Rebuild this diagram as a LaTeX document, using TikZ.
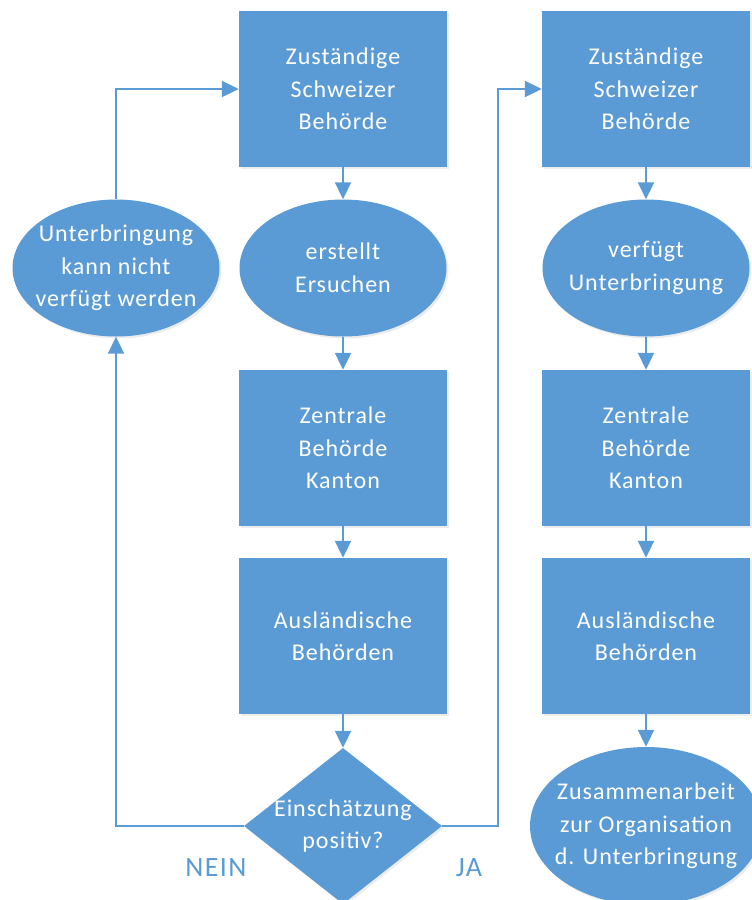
\documentclass[tikz,border=0pt]{standalone}
\usepackage{fontspec}
\setmainfont{Carlito}
\newfontfamily\boxfont[LetterSpace=4]{Carlito}
\newfontfamily\lblfont[LetterSpace=5]{Carlito}
\usetikzlibrary{arrows.meta}
\usetikzlibrary{shapes.geometric}
\usetikzlibrary{shadows}
\definecolor{mblue}{HTML}{5B9BD5}
\tikzset{flow/.style = {draw = mblue, line width = 2pt, -{Triangle[length = 17pt, width = 16pt]}}}
\tikzset{shade/.style = {drop shadow = {opacity = 0.15, shadow xshift = 2pt, shadow yshift = -2pt}}}
\tikzset{txt/.style = {text = white, align = center, font = \boxfont\fontsize{24}{32.5}\selectfont}}
\tikzset{box/.style = {txt, fill = mblue, shade, inner sep = 0, minimum width = 208pt, minimum height = 156pt}}
\tikzset{oval/.style = {txt, fill = mblue, shade, ellipse, inner sep = -30pt, minimum width = 207pt, minimum height = 137pt}}
\tikzset{decision/.style = {fill = mblue, shade, diamond, inner sep = 0, minimum width = 198pt, minimum height = 156pt}}
\tikzset{lbl/.style = {text = mblue, font = \lblfont\fontsize{28}{32}\selectfont}}

\begin{document}
\begin{tikzpicture}[x = 1pt, y = -1pt]
      \useasboundingbox (0, 0) rectangle (752, 900);

      \node [box] (sb1) at (343, 89) {Zuständige\\Schweizer\\Behörde};
      \node [oval] (er) at (343, 268) {erstellt\\Ersuchen};
      \node [box] (zb1) at (343, 448) {Zentrale\\Behörde\\Kanton};
      \node [box] (ab1) at (343, 636) {Ausländische\\Behörden};
      \node [decision] (dia) at (343, 826) {};
      \node [txt] (diatext) at (dia) {Einschätzung\\positiv?};
      \node [oval] (nv) at (116, 268) {Unterbringung\\kann nicht\\verfügt werden};

      \node [box] (sb2) at (646, 89) {Zuständige\\Schweizer\\Behörde};
      \node [oval] (vu) at (646, 268) {verfügt\\Unterbringung};
      \node [box] (zb2) at (646, 448) {Zentrale\\Behörde\\Kanton};
      \node [box] (ab2) at (646, 636) {Ausländische\\Behörden};
      \node [oval, minimum width = 232pt, minimum height = 158pt] (za) at (646, 826) {Zusammenarbeit\\zur Organisation\\d. Unterbringung};

      \node [lbl] (nein) at (216, 868) {NEIN};
      \node [lbl] (ja) at (469, 868) {JA};

      \draw [flow] (sb1) -- (er);
      \draw [flow] (er) -- (zb1);
      \draw [flow] (zb1) -- (ab1);
      \draw [flow] (ab1) -- (dia);
      \draw [flow] (dia.west) -| (nv.south);
      \draw [flow] (nv.north) |- (sb1.west);
      \draw [flow] (dia.east) -- ++(56, 0) |- (sb2.west);

      \draw [flow] (sb2) -- (vu);
      \draw [flow] (vu) -- (zb2);
      \draw [flow] (zb2) -- (ab2);
      \draw [flow] (ab2) -- (za);
    \end{tikzpicture}
\end{document}
